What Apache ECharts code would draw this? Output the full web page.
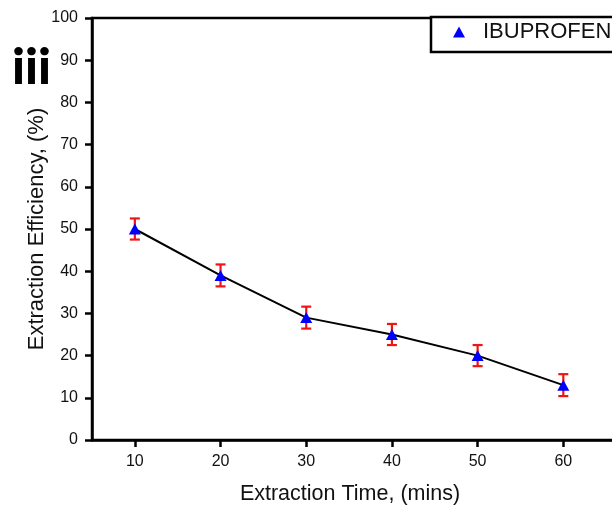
<!DOCTYPE html>
<html>
<head>
<meta charset="utf-8">
<script src="https://cdn.jsdelivr.net/npm/echarts@6/dist/echarts.min.js"></script>
<style>html,body{margin:0;padding:0;background:#fff;}#c{width:612px;height:511px;}</style>
</head>
<body>
<div id="c"></div>
<script>
const extractionTime = [10, 20, 30, 40, 50, 60];
const efficiency = [50, 39, 29, 25, 20, 13];
const errorValues = [2.5, 2.6, 2.6, 2.5, 2.5, 2.6];
const xTickValues = [10, 20, 30, 40, 50, 60];
const yTickValues = [0, 10, 20, 30, 40, 50, 60, 70, 80, 90, 100];
const seriesName = 'IBUPROFEN';
const panelLabel = 'iii';
const xTitle = 'Extraction Time, (mins)';
const yTitle = 'Extraction Efficiency, (%)';

const FONT = '"Liberation Sans", Arial, sans-serif';
const chart = echarts.init(document.getElementById('c'), null, {renderer: 'canvas'});

const pointData = extractionTime.map((t, i) => [t, efficiency[i]]);
const errData = extractionTime.map((t, i) => [t, efficiency[i], errorValues[i]]);

chart.setOption({
  animation: false,
  backgroundColor: '#ffffff',
  grid: {
    left: 92, top: 18, width: 557, height: 422,
    outerBoundsMode: 'none', containLabel: false,
    show: true, borderColor: '#000', borderWidth: 2.5, backgroundColor: 'transparent'
  },
  legend: {
    data: [seriesName],
    left: 453, top: 21, padding: 0,
    icon: 'triangle', itemWidth: 12, itemHeight: 11,
    textStyle: {fontFamily: FONT, fontSize: 22, color: '#111', padding: [0, 0, 0, 13]},
    z: 10
  },
  graphic: [
    {type: 'rect', z: 5, shape: {x: 431, y: 17, width: 260, height: 35},
      style: {fill: '#fff', stroke: '#000', lineWidth: 2.5}},
    {type: 'text', left: 12, top: 43, z: 10,
      style: {text: panelLabel, font: '900 50px Lato, "Liberation Sans", sans-serif', fill: '#000'}}
  ],
  xAxis: {
    type: 'value', min: 5, max: 70,
    name: xTitle, nameLocation: 'middle', nameGap: 43, nameMoveOverlap: false,
    nameTextStyle: {fontFamily: FONT, fontSize: 21.5, color: '#111', padding: [0, 41, 0, 0]},
    axisLine: {show: true, onZero: false, lineStyle: {color: '#000', width: 2.5}},
    axisTick: {show: true, inside: false, length: 7, lineStyle: {color: '#000', width: 2.5}, customValues: xTickValues},
    axisLabel: {fontFamily: FONT, fontSize: 16, color: '#111', margin: 14, customValues: xTickValues},
    splitLine: {show: false}
  },
  yAxis: {
    type: 'value', min: 0, max: 100, interval: 10,
    name: yTitle, nameLocation: 'middle', nameGap: 44, nameMoveOverlap: false,
    nameTextStyle: {fontFamily: FONT, fontSize: 22, color: '#111'},
    axisLine: {show: true, lineStyle: {color: '#000', width: 2.5}},
    axisTick: {show: true, inside: false, length: 7, lineStyle: {color: '#000', width: 2.5}},
    axisLabel: {fontFamily: FONT, fontSize: 16, color: '#111', margin: 14,
      formatter: v => (yTickValues.indexOf(v) >= 0 ? String(v) : '')},
    splitLine: {show: false}
  },
  series: [
    {
      type: 'custom', name: 'error', z: 2, silent: true,
      renderItem: function (params, api) {
        const x = api.value(0), y = api.value(1), e = api.value(2);
        const top = api.coord([x, y + e]);
        const bot = api.coord([x, y - e]);
        const hw = 5;
        const st = {stroke: '#f01414', lineWidth: 2.2};
        return {type: 'group', children: [
          {type: 'line', shape: {x1: top[0], y1: top[1], x2: bot[0], y2: bot[1]}, style: st},
          {type: 'line', shape: {x1: top[0] - hw, y1: top[1], x2: top[0] + hw, y2: top[1]}, style: st},
          {type: 'line', shape: {x1: bot[0] - hw, y1: bot[1], x2: bot[0] + hw, y2: bot[1]}, style: st}
        ]};
      },
      data: errData
    },
    {
      type: 'line', name: seriesName, z: 3,
      data: pointData,
      symbol: 'triangle', symbolSize: [12, 11],
      itemStyle: {color: '#0000ff'},
      lineStyle: {color: '#000', width: 2},
      emphasis: {disabled: true}
    }
  ]
});
</script>
</body>
</html>
